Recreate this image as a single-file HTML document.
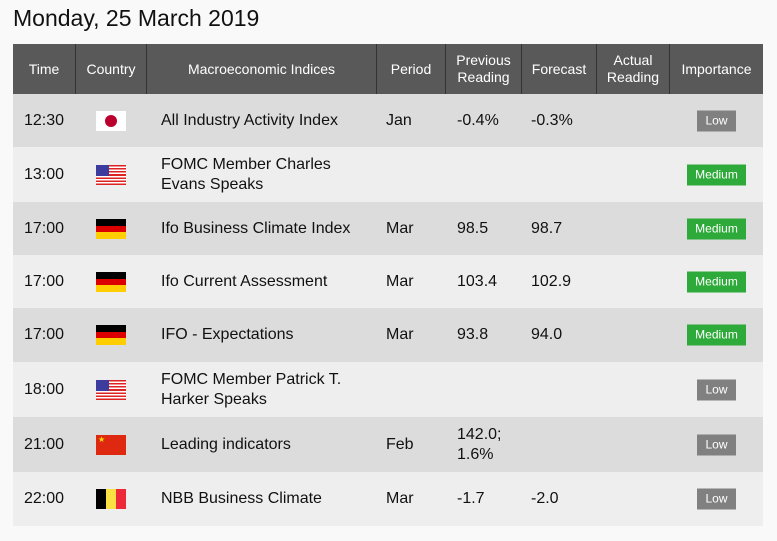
<!DOCTYPE html>
<html><head><meta charset="utf-8"><style>
body{margin:0;width:777px;height:541px;background:#f9f9f9;font-family:"Liberation Sans",Arial,sans-serif;position:relative;overflow:hidden}
.a{position:absolute}
h1{position:absolute;left:13px;top:5px;margin:0;font-weight:normal;font-size:23px;color:#111}
.hd{position:absolute;top:44px;height:50px;background:#595959;color:#fff;font-size:14px;display:flex;align-items:center;justify-content:center;text-align:center;line-height:17px;border-right:1px solid #333;box-sizing:border-box}
.row{position:absolute;left:13px;width:750px}
.c{position:absolute;font-size:16px;color:#111;line-height:20px;top:50%;transform:translateY(-50%)}
.flag{position:absolute;left:83px;width:30px;height:20px;top:50%;transform:translateY(-50%)}
.badge{position:absolute;top:50%;transform:translateY(-50%);color:#fff;font-size:12px;height:21px;line-height:21px;text-align:center}
.low{left:684px;width:39px;background:#808080}
.med{left:674px;width:59px;background:#2eaa3a}
</style></head><body>
<h1>Monday, 25 March 2019</h1>
<div class="hd" style="left:13px;width:63px">Time</div>
<div class="hd" style="left:76px;width:71px">Country</div>
<div class="hd" style="left:147px;width:230px">Macroeconomic Indices</div>
<div class="hd" style="left:377px;width:69px">Period</div>
<div class="hd" style="left:446px;width:76px">Previous<br>Reading</div>
<div class="hd" style="left:522px;width:75px">Forecast</div>
<div class="hd" style="left:597px;width:73px">Actual<br>Reading</div>
<div class="hd" style="left:670px;width:93px;border-right:none">Importance</div>
<div id="rows"></div>
<script>
const times=["12:30","13:00","17:00","17:00","17:00","18:00","21:00","22:00"];
const countries=["jp","us","de","de","de","us","cn","be"];
const names=["All Industry Activity Index","FOMC Member Charles<br>Evans Speaks","Ifo Business Climate Index","Ifo Current Assessment","IFO - Expectations","FOMC Member Patrick T.<br>Harker Speaks","Leading indicators","NBB Business Climate"];
const periods=["Jan","","Mar","Mar","Mar","","Feb","Mar"];
const prevs=["-0.4%","","98.5","103.4","93.8","","142.0;<br>1.6%","-1.7"];
const fcs=["-0.3%","","98.7","102.9","94.0","","","-2.0"];
const imps=["Low","Medium","Medium","Medium","Medium","Low","Low","Low"];
const bounds=[94,147,202,255,308,362,417,472,526];
const flags={
jp:'<div style="width:30px;height:20px;background:#fff;position:relative"><div style="position:absolute;left:9px;top:4px;width:12px;height:12px;border-radius:50%;background:#bc002d"></div></div>',
de:'<div style="height:7px;background:#000"></div><div style="height:6px;background:#dd0000"></div><div style="height:7px;background:#ffce00"></div>',
be:'<div style="display:flex;height:20px"><div style="flex:1;background:#000"></div><div style="flex:1;background:#fae042"></div><div style="flex:1;background:#ed2939"></div></div>',
cn:'<div style="width:30px;height:20px;background:#de2910;color:#ffde00;font-size:8px;line-height:10px;padding-left:2px;box-sizing:border-box">★</div>',
us:'<div style="width:30px;height:20px;background:repeating-linear-gradient(#d22 0 1.54px,#fff 1.54px 3.08px);position:relative"><div style="position:absolute;left:0;top:0;width:13px;height:11px;background:#3c3b9e"></div></div>'
};
const R=document.getElementById('rows');
times.forEach((t,i)=>{
 const r=document.createElement('div');
 
 
 r.className='row';
 r.style.top=bounds[i]+'px';
 r.style.height=(bounds[i+1]-bounds[i])+'px';
 r.style.background=i%2?'#eeeeee':'#dcdcdc';
 const badgeCls=imps[i]=='Low'?'low':'med';
 r.innerHTML=`<div class="c" style="left:11px">${t}</div>
<div class="flag">${flags[countries[i]]}</div>
<div class="c" style="left:148px">${names[i]}</div>
<div class="c" style="left:373px">${periods[i]}</div>
<div class="c" style="left:444px">${prevs[i]}</div>
<div class="c" style="left:518px">${fcs[i]}</div>
<div class="badge ${badgeCls}">${imps[i]}</div>`;
 R.appendChild(r);
});
</script>
</body></html>
